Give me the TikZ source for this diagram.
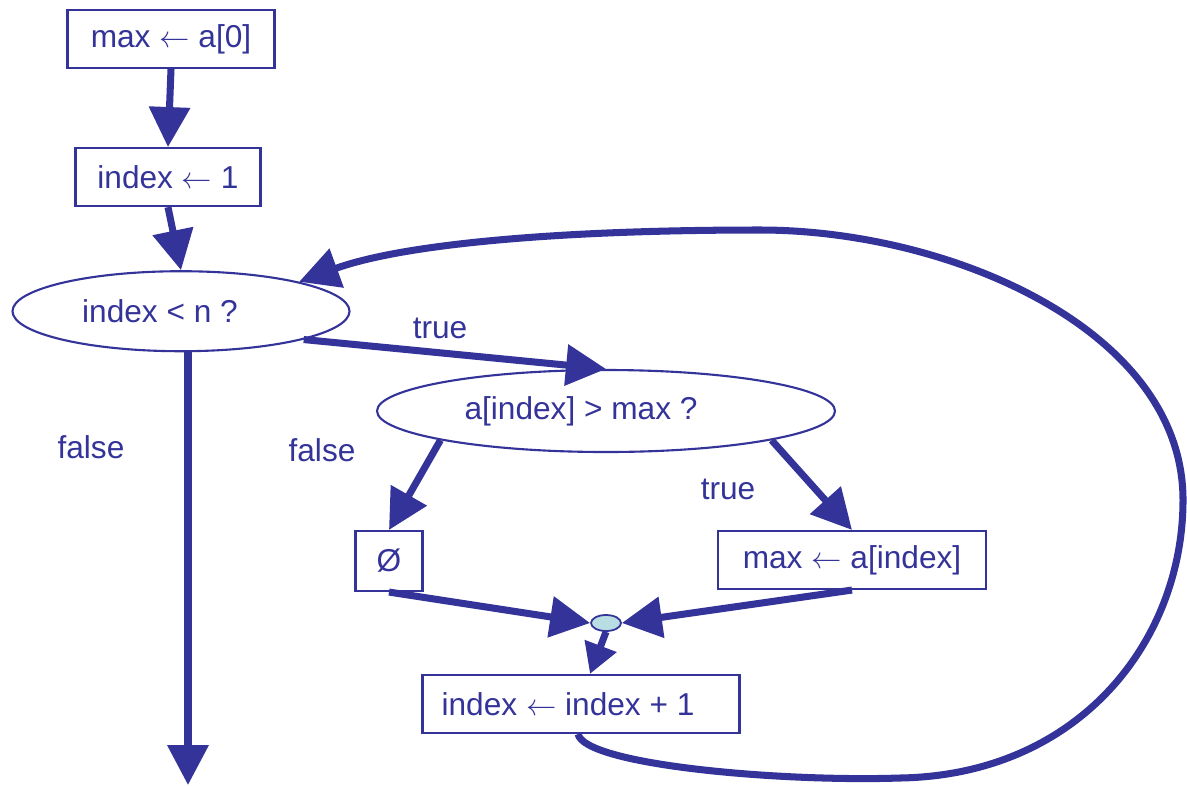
\documentclass[tikz,border=0pt]{standalone}
\usepackage{fontspec}
\setmainfont{Liberation Sans}
\usetikzlibrary{positioning, arrows.meta, shapes.geometric}
\definecolor{flowblue}{RGB}{51,51,153}
\definecolor{joincyan}{RGB}{184,222,228}

\begin{document}
\begin{tikzpicture}[
		process/.style={draw=flowblue, line width=1.2pt, text=flowblue, font=\fontsize{18}{21}\selectfont, minimum height=1.16cm, inner sep=0pt},
		decision/.style={ellipse, draw=flowblue, line width=1.2pt, text=flowblue, font=\fontsize{18}{21}\selectfont, inner sep=0pt},
		junction/.style={ellipse, draw=flowblue, fill=joincyan, line width=1pt, minimum width=0.6cm, minimum height=0.32cm, inner sep=0pt},
		annotation/.style={text=flowblue, font=\fontsize{18}{21}\selectfont},
		flow/.style={draw=flowblue, line width=4pt, -{Triangle[length=0.8cm, width=0.8cm]}}
		]
		\useasboundingbox (0,0) rectangle (23.74,-15.7);
		
		% --- Initialisation ---
		\node[process, minimum width=4.14cm] (maxinit) at (3.42,-0.78) {max $\leftarrow$ a[0]};
		\node[process, minimum width=3.7cm] (idxinit) [below=1.56cm of maxinit, xshift=-0.06cm] {index $\leftarrow$ 1};
		
		% --- Loop test ---
		\node[decision, minimum width=6.74cm, minimum height=1.6cm] (maxtest) [below=1.26cm of idxinit, xshift=0.26cm] {index < n ?\hspace*{0.84cm}};
		\coordinate (exit) at (3.76,-15.7);
		
		% --- Loop body ---
		\node[decision, minimum width=9.16cm, minimum height=1.64cm] (cmp) at (12.12,-8.22) {a[index] > max ?\hspace*{1cm}};
		\node[process, minimum width=1.34cm, minimum height=1.2cm] (skip) at (7.78,-11.22) {Ø};
		\node[process, minimum width=5.36cm] (update) at (17.04,-11.2) {max $\leftarrow$ a[index]};
		\node[junction] (join) at (12.12,-12.46) {};
		\node[process, minimum width=6.34cm] (incr) at (11.62,-14.08) {index $\leftarrow$ index + 1\hspace*{0.52cm}};
		
		% Flow
		\draw[flow] (maxinit.south) -- (idxinit.north);
		\draw[flow] (idxinit.south) -- (maxtest.north);
		\draw[flow] ([xshift=0.14cm]maxtest.south) -- (exit);
		\draw[flow] (maxtest.-13) -- (cmp.north);
		\draw[flow] (cmp.190) -- (skip.north);
		\draw[flow] (cmp.-10) -- (update.north);
		\draw[flow] (skip.south) -- (join.west);
		\draw[flow] (update.south) -- (join.east);
		\draw[flow, -{Triangle[length=0.6cm, width=0.65cm]}] (join.south) -- ([xshift=0.18cm]incr.north);
		
		% Back edge of the loop
		\draw[flow] ([xshift=-0.06cm]incr.south) .. controls (11.7,-15.3) and (15.6,-15.64) .. (18,-15.56)
		.. controls (21.6,-15.5) and (23.66,-12.8) .. (23.66,-10)
		.. controls (23.66,-6.6) and (19,-4.6) .. (15.2,-4.6)
		.. controls (11,-4.6) and (8,-4.9) .. (maxtest.14);
		
		% Branch labels
		\node[annotation] (lbltrue) at (8.8,-6.56) {true};
		\node[annotation] (lblfalse) at (1.82,-8.94) {false};
		\node[annotation] (lblskip) at (6.44,-9.0) {false};
		\node[annotation] (lblupdate) at (14.56,-9.78) {true};
		
	\end{tikzpicture}
\end{document}
